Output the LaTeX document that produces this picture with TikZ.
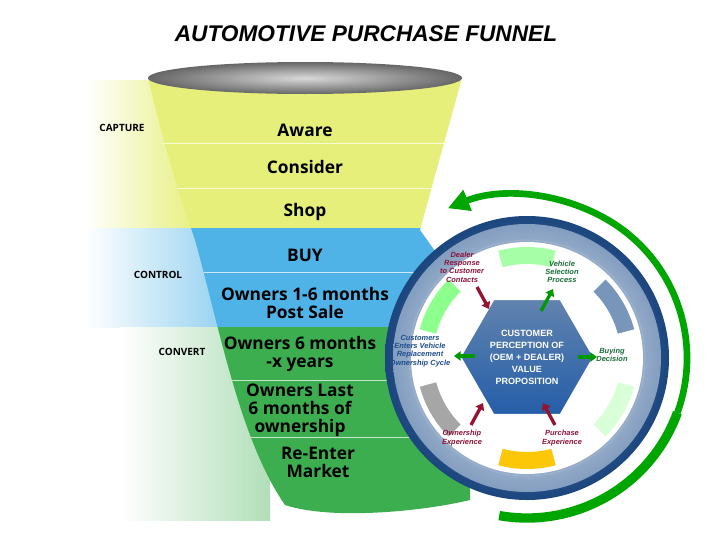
\documentclass[tikz,border=0pt]{standalone}
\usepackage{fontspec}
\setmainfont{Liberation Sans}
\newfontfamily\fun{Open Sans}
\usetikzlibrary{shapes.geometric,arrows.meta}
\definecolor{yel}{HTML}{E6EF7A}
\definecolor{blu}{HTML}{4FB3E8}
\definecolor{grn}{HTML}{3DAE4F}
\definecolor{navy}{HTML}{1E4E8C}
\definecolor{maroon}{HTML}{8B1538}
\definecolor{dgreen}{HTML}{1C6B3A}
\begin{document}
\begin{tikzpicture}[x=0.75pt,y=-0.75pt,
  stage/.style={font=\fun\bfseries\fontsize{13}{13.5}\selectfont,align=center,text=black},
  side/.style={font=\fun\bfseries\fontsize{7.5}{8}\selectfont,text=black},
  small/.style={font=\itshape\bfseries\fontsize{5.6}{6.2}\selectfont,align=center},
  garr/.style={-{Triangle[length=5pt,width=7pt]},line width=2.5pt,green!60!black},
  rarr/.style={-{Triangle[length=5pt,width=7pt]},line width=2.5pt,maroon!90!red}]
\useasboundingbox (0,0) rectangle (728,546);
\fill[white] (0,0) rectangle (728,546);
% side gradient bands
\shade[left color=white,right color=yel] (85,80) rectangle (200,228);
\shade[left color=white,right color=blu!60] (85,228) rectangle (225,327);
\shade[left color=white,right color=grn!40] (120,327) rectangle (270,520);
% funnel body
\begin{scope}
\clip (148,78) .. controls (170,170) and (185,210) .. (195,240)
  .. controls (220,330) and (240,440) .. (285,505)
  .. controls (330,520) and (420,512) .. (470,500)
  -- (470,300) -- (420,230) -- (462,78) -- cycle;
\fill[yel] (100,60) rectangle (500,228);
\fill[blu] (100,228) rectangle (500,327);
\fill[grn] (100,327) rectangle (500,530);
\draw[white,opacity=0.7] (100,143)--(500,143) (100,188)--(500,188) (100,272)--(500,272)
  (100,380)--(500,380) (100,437)--(500,437);
\end{scope}
\shade[inner color=gray!30,outer color=gray!80!black] (305,78) ellipse (157 and 16);
% labels
\node[side] (cap) at (122,128) {CAPTURE};
\node[side] (con) at (158,275) {CONTROL};
\node[side] (cnv) at (182,352) {CONVERT};
\node[stage] (s1) at (305,130) {Aware};
\node[stage] (s2) at (305,167) {Consider};
\node[stage] (s3) at (305,212) {Shop};
\node[stage] (s4) at (305,255) {BUY};
\node[stage] (s5) at (305,303) {Owners 1-6 months\\Post Sale};
\node[stage] (s6) at (300,354) {Owners 6 months\\-x years};
\node[stage] (s7) at (300,410) {Owners Last\\6 months of\\ownership};
\node[stage] (s8) at (318,462) {Re-Enter\\Market};
% green swoosh arrow
\draw[line width=7pt,green!65!black] (527,358) ++(100:160) arc (100:20:160);
\draw[line width=5pt,green!65!black,-{Triangle[length=16pt,width=16pt]}] (527,358) ++(20:160) arc (20:-60:160) arc (-60:-112:182);
% circle
\shade[inner color=navy!60,outer color=navy!90!black] (527,358) circle (142);
\shade[inner color=white,outer color=navy!55] (527,358) circle (134);
\fill[white] (527,358) circle (116);
\draw[navy!40] (527,358) circle (118);
% segments
\foreach \a/\c in {-90/green!35,-30/navy!60,30/green!15,90/yellow!60!orange,150/gray!70,210/green!45}{
  \fill[\c] (527,358) ++(\a-15:94) arc (\a-15:\a+15:94) -- ++(\a+15:17) arc (\a+15:\a-15:111) -- cycle;
}
% hexagon
\node[regular polygon,regular polygon sides=6,shape border rotate=0,minimum size=100,inner sep=0,
  draw=white,line width=1.2pt,
  top color=navy!70,bottom color=navy!120!black,text=white,align=center,
  font=\bfseries\fontsize{6.8}{9}\selectfont] (hex) at (527,357)
  {CUSTOMER\\PERCEPTION OF\\(OEM + DEALER)\\VALUE\\PROPOSITION};
% circle texts
\node[small,text=maroon] (t1) at (462,267) {Dealer\\Response\\to Customer\\Contacts};
\node[small,text=dgreen] (t2) at (562,272) {Vehicle\\Selection\\Process};
\node[small,text=dgreen] (t3) at (612,355) {Buying\\Decision};
\node[small,text=maroon] (t4) at (562,438) {Purchase\\Experience};
\node[small,text=maroon] (t5) at (462,438) {Ownership\\Experience};
\node[small,text=navy] (t6) at (420,351) {Customers\\Enters Vehicle\\Replacement\\Ownership Cycle};
% arrows
\coordinate (a1) at (477,287); \coordinate (a1e) at (489,309);
\draw[rarr] (a1) -- (a1e);
\coordinate (a2) at (541,311); \coordinate (a2e) at (553,289);
\draw[garr] (a2) -- (a2e);
\coordinate (a3) at (578,357); \coordinate (a3e) at (597,357);
\draw[garr] (a3) -- (a3e);
\coordinate (a4) at (555,425); \coordinate (a4e) at (543,403);
\draw[rarr] (a4) -- (a4e);
\coordinate (a5) at (471,425); \coordinate (a5e) at (483,403);
\draw[rarr] (a5) -- (a5e);
\coordinate (a6) at (475,356); \coordinate (a6e) at (454,356);
\draw[garr] (a6) -- (a6e);
% title
\node[font=\bfseries\itshape\fontsize{17}{17}\selectfont] (title) at (366,34) {AUTOMOTIVE PURCHASE FUNNEL};
\end{tikzpicture}
\end{document}
